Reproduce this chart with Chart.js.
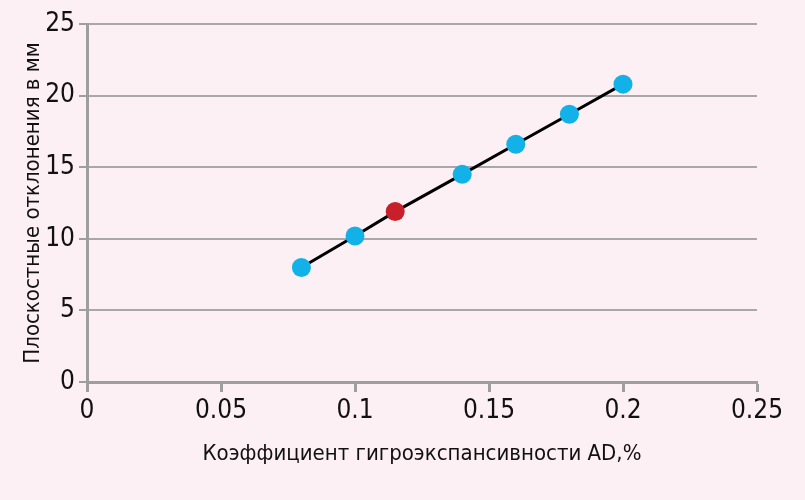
<!DOCTYPE html>
<html>
<head>
<meta charset="utf-8">
<script src="https://cdn.jsdelivr.net/npm/chart.js@4/dist/chart.umd.min.js"></script>
<style>
  html, body { margin: 0; padding: 0; background: #fdf0f4; }
  #wrap { width: 805px; height: 500px; }
</style>
</head>
<body>
<div id="wrap"><canvas id="chart" width="805" height="500"></canvas></div>
<script>
// --- Data ---
const coefValues = [0.08, 0.1, 0.115, 0.14, 0.16, 0.18, 0.2];
const deviationValues = [8.0, 10.2, 11.9, 14.5, 16.6, 18.7, 20.8];
const highlightIndex = 2;
const xTicks = [0, 0.05, 0.1, 0.15, 0.2, 0.25];
const yTicks = [0, 5, 10, 15, 20, 25];

const FONT = "'Liberation Sans Narrow', 'DejaVu Sans Condensed', sans-serif";
const BLUE = '#12b1e8';
const RED = '#c8202a';
const AXIS = '#9e9e9e';

document.addEventListener('DOMContentLoaded', () => {
    const points = coefValues.map((x, i) => ({ x: x, y: deviationValues[i] }));
    const pointColors = coefValues.map((x, i) => i === highlightIndex ? RED : BLUE);

    const bgPlugin = {
        id: 'bg',
        beforeDraw(chart) {
            const c = chart.ctx;
            c.save();
            c.fillStyle = '#fdf0f4';
            c.fillRect(0, 0, chart.width, chart.height);
            c.restore();
        }
    };

    new Chart(document.getElementById('chart'), {
        type: 'scatter',
        data: {
            datasets: [{
                data: points,
                showLine: true,
                borderColor: '#000',
                borderWidth: 3,
                pointRadius: 9.5,
                pointHoverRadius: 9.5,
                pointBorderWidth: 0,
                pointBackgroundColor: pointColors
            }]
        },
        options: {
            responsive: false,
            animation: false,
            layout: { padding: { left: 20, right: 48, top: 24, bottom: 33 } },
            plugins: {
                legend: { display: false },
                tooltip: { enabled: false }
            },
            scales: {
                x: {
                    type: 'linear',
                    min: 0,
                    max: 0.25,
                    afterBuildTicks: (scale) => { scale.ticks = xTicks.map(v => ({ value: v })); },
                    afterFit: (scale) => { scale.height = 85; },
                    border: { color: AXIS, width: 3 },
                    grid: {
                        drawOnChartArea: false,
                        drawTicks: true,
                        tickLength: 10,
                        tickWidth: 3,
                        tickColor: AXIS
                    },
                    ticks: {
                        color: '#111',
                        padding: 4,
                        font: { family: FONT, size: 26 },
                        callback: (v) => String(v)
                    },
                    title: {
                        display: true,
                        text: 'Коэффициент гигроэкспансивности AD,%',
                        color: '#111',
                        font: { family: FONT, size: 22 },
                        padding: { top: 6, bottom: 0 }
                    }
                },
                y: {
                    type: 'linear',
                    min: 0,
                    max: 25,
                    afterBuildTicks: (scale) => { scale.ticks = yTicks.map(v => ({ value: v })); },
                    afterFit: (scale) => { scale.width = 67; },
                    border: { color: AXIS, width: 3 },
                    grid: {
                        color: '#a8a8a8',
                        lineWidth: 2,
                        drawTicks: true,
                        tickLength: 8,
                        tickWidth: 2,
                        tickColor: AXIS
                    },
                    ticks: {
                        color: '#111',
                        padding: 4,
                        font: { family: FONT, size: 26 }
                    },
                    title: {
                        display: true,
                        text: 'Плоскостные отклонения в мм',
                        color: '#111',
                        font: { family: FONT, size: 22 },
                        padding: { top: 0, bottom: 2 }
                    }
                }
            }
        },
        plugins: [bgPlugin]
    });
});
</script>
</body>
</html>
